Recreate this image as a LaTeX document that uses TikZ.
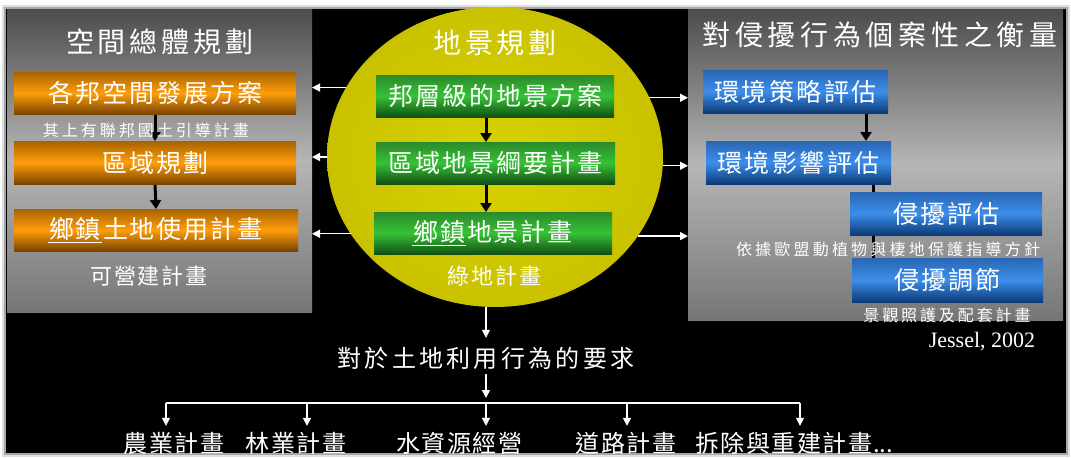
\documentclass[tikz,border=0pt]{standalone}
\usepackage{fontspec}
\setmainfont{Liberation Serif}
\newfontfamily\cjk{Noto Sans CJK TC}
\usetikzlibrary{shapes.geometric,arrows.meta}
\pgfdeclarelayer{bg}\pgfdeclarelayer{mid}\pgfsetlayers{bg,mid,main}
\definecolor{pTop}{HTML}{4C4C4C}
\definecolor{pMid}{HTML}{B6B6B6}
\definecolor{pBot}{HTML}{767676}
\definecolor{oTop}{HTML}{A86200}
\definecolor{oMid}{HTML}{FF9E0A}
\definecolor{oBot}{HTML}{7A4400}
\definecolor{gTop}{HTML}{2A8A2A}
\definecolor{gMid}{HTML}{36C236}
\definecolor{gBot}{HTML}{125012}
\definecolor{bTop}{HTML}{2A66B4}
\definecolor{bMid}{HTML}{3C8EEA}
\definecolor{bBot}{HTML}{0C3A76}
\definecolor{eIn}{HTML}{D8D200}
\definecolor{eMid}{HTML}{C8C000}
\definecolor{eOut}{HTML}{7A7410}
\pgfdeclareradialshading{ellshade}{\pgfpoint{0bp}{0bp}}{color(0bp)=(eIn); color(28bp)=(eMid); color(50bp)=(eOut); color(80bp)=(eOut)}
\makeatletter
\newcommand\spc[2]{\def\spc@w{#1}\spc@loop#2\spc@end}
\def\spc@end{\spc@end}
\def\spc@loop#1{\ifx\spc@end#1\else\makebox[\spc@w]{#1}\expandafter\spc@loop\fi}
\makeatother
\begin{document}
\begin{tikzpicture}[x=1pt,y=-1pt,
  panelbox/.style={inner sep=0pt, outer sep=0pt, top color=pTop, bottom color=pBot, middle color=pMid},
  boxbase/.style={inner sep=0pt, outer sep=0pt, text=white, font=\cjk\fontsize{25}{27}\selectfont, minimum height=42},
  obox/.style={boxbase, top color=oTop, bottom color=oBot, middle color=oMid},
  gbox/.style={boxbase, top color=gTop, bottom color=gBot, middle color=gMid},
  bbox/.style={boxbase, top color=bTop, bottom color=bBot, middle color=bMid},
  txt/.style={text=white, inner sep=0pt, outer sep=0pt},
  ttl/.style={txt, font=\cjk\fontsize{28}{30}\selectfont},
  small/.style={txt, font=\cjk\fontsize{16}{18}\selectfont},
  medium/.style={txt, font=\cjk\fontsize{22}{24}\selectfont},
  large/.style={txt, font=\cjk\fontsize{24}{26}\selectfont},
  warrow/.style={white, line width=1.4pt, -{Triangle[length=8pt,width=8pt]}},
  wline/.style={white, line width=1.4pt},
  barrow/.style={black, line width=3pt, -{Triangle[length=9pt,width=11pt]}},
  bline/.style={black, line width=3pt}]
\useasboundingbox (0,0) rectangle (1071,458);
\begin{pgfonlayer}{bg}
\fill[white] (0,0) rectangle (1071,458);
\draw[black!12, line width=8pt] (6,9) rectangle (1066,453);
\draw[black!35, line width=4pt] (6,9) rectangle (1066,453);
\fill[black] (6,9) rectangle (1066,453);
\node[panelbox, minimum width=305, minimum height=303] (lp) at (159.5,160.5) {};
\node[panelbox, minimum width=375, minimum height=311] (rp) at (875.5,164.5) {};
\node[ellipse, shade, shading=ellshade, minimum width=336, minimum height=300, inner sep=0pt, outer sep=0pt] (ell) at (495,157) {};
\end{pgfonlayer}

% left column
\node[ttl] (lt) at (160,42) {\spc{32pt}{空間總體規劃}};
\node[obox, minimum width=282] (ob1) at (155,93) {\spc{27pt}{各邦空間發展方案}};
\node[small] (ls1) at (146,130) {\spc{19pt}{其上有聯邦國土引導計畫}};
\node[obox, minimum width=282, minimum height=43] (ob2) at (155,162.5) {\spc{27pt}{區域規劃}};
\node[obox, minimum width=284] (ob3) at (156,230) {\underline{\spc{27pt}{鄉鎮}}\spc{27pt}{土地使用計畫}};
\node[medium] (ls2) at (149,276) {\spc{23.6pt}{可營建計畫}};

% middle column
\node[ttl] (mt) at (495,43) {\spc{31.5pt}{地景規劃}};
\node[gbox, minimum width=238] (gb1) at (495,96) {\spc{27pt}{邦層級的地景方案}};
\node[gbox, minimum width=239] (gb2) at (495.5,163) {\spc{27pt}{區域地景綱要計畫}};
\node[gbox, minimum width=238] (gb3) at (493,233) {\underline{\spc{27pt}{鄉鎮}}\spc{27pt}{地景計畫}};
\node[medium] (ms) at (494.5,276) {\spc{24pt}{綠地計畫}};

% right column
\node[ttl] (rt) at (880,35) {\spc{32.7pt}{對侵擾行為個案性之衡量}};
\node[bbox, minimum width=185, minimum height=43] (rb1) at (795.5,91.5) {\spc{27.5pt}{環境策略評估}};
\node[bbox, minimum width=185, minimum height=43] (rb2) at (798.5,162.5) {\spc{27.5pt}{環境影響評估}};
\node[bbox, minimum width=192, minimum height=43] (rb3) at (946,213.5) {\spc{27pt}{侵擾評估}};
\node[small] (rs1) at (888,249) {\spc{19.2pt}{依據歐盟動植物與棲地保護指導方針}};
\node[bbox, minimum width=191, minimum height=44] (rb4) at (947.5,280) {\spc{27pt}{侵擾調節}};
\node[small] (rs2) at (947,315) {\spc{18.9pt}{景觀照護及配套計畫}};
\node[txt, font=\fontsize{22}{24}\selectfont] (jes) at (982,342) {Jessel, 2002};

% bottom
\node[large] (req) at (486,358) {\spc{27.3pt}{對於土地利用行為的要求}};
\coordinate (bar) at (486,403);
\coordinate (a1) at (166,403);
\coordinate (a2) at (307,403);
\coordinate (a3) at (486,403);
\coordinate (a4) at (627,403);
\coordinate (a5) at (800,403);
\node[large] (b1) at (174,443) {\spc{25.5pt}{農業計畫}};
\node[large] (b2) at (296,443) {\spc{25.5pt}{林業計畫}};
\node[large] (b3) at (459,443) {\spc{25.5pt}{水資源經營}};
\node[large] (b4) at (626,443) {\spc{25.5pt}{道路計畫}};
\node[large] (b5) at (794,443) {\spc{25.5pt}{拆除與重建計畫}...};

\begin{pgfonlayer}{mid}
% black arrows inside columns
\draw[barrow] (ob1.south) -- (ob2.north);
\draw[barrow] (ob2.south) -- (ob3.north);
\draw[barrow] (gb1.south -| req.center) -- (gb2.north -| req.center);
\draw[barrow] (gb2.south -| req.center) -- (gb3.north -| req.center);
\draw[barrow] ([xshift=70.5pt]rb1.south) -- ([xshift=70.5pt]rb1.south |- rb2.north);
\draw[bline] ([xshift=74.5pt]rb2.south) -- ([xshift=74.5pt]rb2.south |- rb4.north);
% white arrows from the ellipse
\draw[warrow] (ell.155.6) -- (ell.155.6 -| lp.east);
\draw[warrow] (ell.180) -- (ell.180 -| lp.east);
\draw[warrow] (ell.208.1) -- (ell.208.1 -| lp.east);
\draw[warrow] (ell.21) -- (ell.21 -| rp.west);
\draw[warrow] (ell.357.6) -- (ell.357.6 -| rp.west);
\draw[warrow] (ell.331.6) -- (ell.331.6 -| rp.west);
% bottom tree
\draw[warrow] (ell.south -| req.center) -- ([yshift=9pt]req.north);
\draw[warrow] ([yshift=-5pt]req.south) -- ([yshift=5pt]bar);
\draw[wline] (a1) -- (a5);
\draw[warrow] (a1) -- ([yshift=6pt]a1 |- b1.north);
\draw[warrow] (a2) -- ([yshift=6pt]a2 |- b2.north);
\draw[warrow] (a3) -- ([yshift=6pt]a3 |- b3.north);
\draw[warrow] (a4) -- ([yshift=6pt]a4 |- b4.north);
\draw[warrow] (a5) -- ([yshift=6pt]a5 |- b5.north);
\end{pgfonlayer}
\end{tikzpicture}
\end{document}
